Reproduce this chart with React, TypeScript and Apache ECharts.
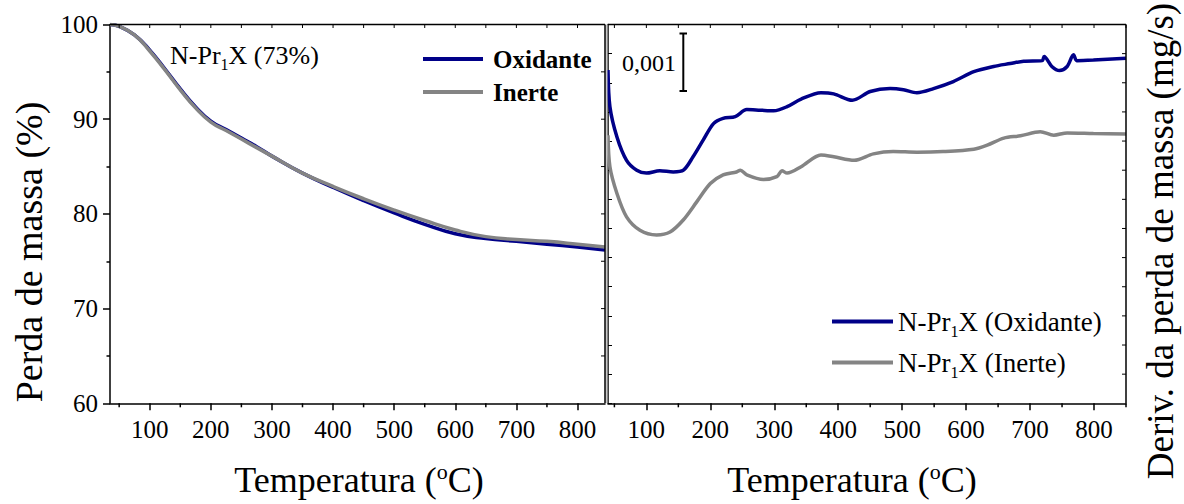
import React, { useEffect, useRef } from 'react';
import * as echarts from 'echarts';

const FONT = 'Liberation Serif, Times New Roman, serif';
const NAVY = '#000088';
const GRAY = '#848484';

// ---- TGA (left panel): temperature (°C) vs mass (%) ----
const tgaTemps = [35, 50, 75, 100, 125, 150, 175, 200, 225, 250, 275, 300, 350, 400, 450, 500, 550, 600, 650, 700, 750, 800, 845];
const tgaOxidante = [100, 99.8, 98.9, 97.3, 95.3, 93.2, 91.3, 89.8, 88.9, 88.0, 87.1, 86.1, 84.3, 82.8, 81.4, 80.1, 78.9, 77.9, 77.4, 77.1, 76.8, 76.5, 76.2];
const tgaInerte = [100, 99.8, 98.9, 97.2, 95.2, 93.1, 91.2, 89.7, 88.8, 87.9, 87.0, 86.1, 84.3, 82.9, 81.6, 80.4, 79.3, 78.3, 77.6, 77.3, 77.1, 76.8, 76.5];

// ---- DTG (right panel): temperature (°C) vs derivative (x10^-3 mg/s, offset curves) ----
const dtgOxTemps = [40, 43, 54, 69, 85, 100, 121, 142, 158, 173, 189, 205, 220, 239, 257, 278, 299, 320, 342, 373, 393, 422, 450, 481, 502, 523, 549, 580, 612, 643, 669, 690, 719, 722, 734, 746, 758, 768, 773, 799, 850];
const dtgOxValues = [-0.28, -0.91, -1.43, -1.83, -2.0, -2.05, -2.01, -2.03, -2.0, -1.77, -1.48, -1.2, -1.11, -1.08, -0.96, -0.97, -0.98, -0.91, -0.78, -0.67, -0.69, -0.8, -0.65, -0.6, -0.62, -0.67, -0.6, -0.48, -0.31, -0.22, -0.17, -0.13, -0.12, -0.05, -0.22, -0.29, -0.22, -0.02, -0.12, -0.11, -0.08];
const dtgInTemps = [40, 43, 54, 69, 90, 116, 137, 158, 179, 200, 220, 241, 247, 257, 283, 304, 312, 320, 342, 373, 393, 425, 455, 486, 523, 564, 612, 633, 659, 685, 716, 737, 758, 799, 850];
const dtgInValues = [-1.4, -1.94, -2.4, -2.8, -3.03, -3.11, -3.06, -2.85, -2.54, -2.23, -2.08, -2.03, -2.0, -2.08, -2.16, -2.11, -2.01, -2.05, -1.94, -1.74, -1.77, -1.83, -1.72, -1.68, -1.69, -1.68, -1.64, -1.57, -1.45, -1.41, -1.34, -1.4, -1.36, -1.37, -1.38];

// ---- Axis ranges and ticks ----
const leftX = [35, 845];
const rightX = [40, 850];
const leftY = [60, 100];
const rightY = [-6, 0.5];
const xMajorTicks = [100, 200, 300, 400, 500, 600, 700, 800];
const xMinorTicksLeft = [50, 150, 250, 350, 450, 550, 650, 750];
const xMinorTicksRight = [50, 150, 250, 350, 450, 550, 650, 750, 850];
const xTopTicksLeft = [50, 100, 150, 200, 250, 300, 350, 400, 450, 500, 550, 600, 650, 700, 750, 800];
const xTopTicksRight = [50, 100, 150, 200, 250, 300, 350, 400, 450, 500, 550, 600, 650, 700, 750, 800, 850];
const yRightTicksLeft = [65, 70, 75, 80, 85, 90, 95];
const yRightTicksRight = [-5.5, -5, -4.5, -4, -3.5, -3, -2.5, -2, -1.5, -1, -0.5, 0];

const GRID_TOP = 24.5;
const GRID_H = 378.8;
const PANELS = [
  { left: 110, width: 495, xr: leftX, yr: leftY, top: xTopTicksLeft, minor: xMinorTicksLeft, right: yRightTicksLeft },
  { left: 608, width: 518, xr: rightX, yr: rightY, top: xTopTicksRight, minor: xMinorTicksRight, right: yRightTicksRight },
];

const zip = (xs: number[], ys: number[]) => xs.map((x, i) => [x, ys[i]]);

const black = { color: '#000', width: 1.5 };
const thin = { color: '#000', width: 1 };

const subRich = (size: number) => ({
  a: { fontSize: size, fontFamily: FONT, color: '#000', lineHeight: size + 8 },
  s: { fontSize: Math.round(size * 0.6), fontFamily: FONT, color: '#000', verticalAlign: 'bottom', lineHeight: Math.round(size * 0.6) },
});

const supRich = (size: number) => ({
  a: { fontSize: size, fontFamily: FONT, color: '#000', lineHeight: size + 4 },
  s: { fontSize: Math.round(size * 0.6), fontFamily: FONT, color: '#000', verticalAlign: 'top', lineHeight: Math.round(size * 0.6) },
});

// frame edges (top / right) and their ticks, following each grid's linear scale
function frameGraphics() {
  const out: any[] = [];
  const seg = (x1: number, y1: number, x2: number, y2: number, w: number) =>
    out.push({ type: 'line', silent: true, z: 100, shape: { x1, y1, x2, y2 }, style: { stroke: '#000', lineWidth: w } });
  const top = GRID_TOP;
  const bottom = GRID_TOP + GRID_H;
  PANELS.forEach((p) => {
    const right = p.left + p.width;
    const sx = (v: number) => p.left + ((v - p.xr[0]) / (p.xr[1] - p.xr[0])) * p.width;
    const sy = (v: number) => bottom - ((v - p.yr[0]) / (p.yr[1] - p.yr[0])) * GRID_H;
    seg(p.left, top, right, top, 1.5);
    seg(right, top, right, bottom, 1.5);
    p.top.forEach((v) => seg(sx(v), top, sx(v), top + 3.5, 1));
    p.minor.forEach((v) => seg(sx(v), bottom, sx(v), bottom + 4, 1.5));
    p.right.forEach((v) => seg(right - 4, sy(v), right, sy(v), 1));
  });
  return out;
}

const graphics: any[] = [
  { type: 'rect', z: 90, shape: { x: 605.5, y: GRID_TOP, width: 2, height: GRID_H }, style: { fill: '#c8c8c8' }, silent: true },
  ...frameGraphics(),
  {
    type: 'text', x: 170, y: 55,
    style: { text: '{a|N-Pr}{s|1}{a|X (73%)}', rich: subRich(26), align: 'left', verticalAlign: 'middle' },
  },
  // scale bar 0,001
  { type: 'line', shape: { x1: 683.3, y1: 33.5, x2: 683.3, y2: 91 }, style: { stroke: '#000', lineWidth: 2 } },
  { type: 'line', shape: { x1: 679.5, y1: 33.5, x2: 687, y2: 33.5 }, style: { stroke: '#000', lineWidth: 2 } },
  { type: 'line', shape: { x1: 679.5, y1: 91, x2: 687, y2: 91 }, style: { stroke: '#000', lineWidth: 2 } },
  {
    type: 'text', x: 676, y: 63,
    style: { text: '0,001', fontSize: 24, fontFamily: FONT, fill: '#000', align: 'right', verticalAlign: 'middle' },
  },
  // axis titles
  {
    type: 'text', x: 359, y: 480,
    style: { text: '{a|Temperatura (}{s|o}{a|C)}', rich: supRich(36), align: 'center', verticalAlign: 'middle' },
  },
  {
    type: 'text', x: 852, y: 480,
    style: { text: '{a|Temperatura (}{s|o}{a|C)}', rich: supRich(36), align: 'center', verticalAlign: 'middle' },
  },
  {
    type: 'text', x: 29, y: 252, rotation: Math.PI / 2,
    style: { text: 'Perda de massa (%)', fontSize: 38, fontFamily: FONT, fill: '#000', align: 'center', verticalAlign: 'middle' },
  },
  {
    type: 'text', x: 1160, y: 241, rotation: Math.PI / 2,
    style: { text: 'Deriv. da perda de massa (mg/s)', fontSize: 37, fontFamily: FONT, fill: '#000', align: 'center', verticalAlign: 'middle' },
  },
];

const bottomAxis = (gridIndex: number, range: number[]) => ({
  type: 'value', gridIndex, min: range[0], max: range[1], position: 'bottom',
  axisLine: { show: true, onZero: false, lineStyle: black },
  axisTick: { show: true, customValues: xMajorTicks, length: 7, lineStyle: black },
  axisLabel: { customValues: xMajorTicks, fontSize: 25, fontFamily: FONT, color: '#000', margin: 14 },
  splitLine: { show: false },
});

const option = {
  animation: false,
  backgroundColor: '#fff',
  textStyle: { fontFamily: FONT },
  grid: PANELS.map((p) => ({ left: p.left, top: GRID_TOP, width: p.width, height: GRID_H })),
  xAxis: [bottomAxis(0, leftX), bottomAxis(1, rightX)],
  yAxis: [
    {
      type: 'value', gridIndex: 0, min: leftY[0], max: leftY[1], interval: 10, position: 'left',
      axisLine: { show: true, onZero: false, lineStyle: black },
      axisTick: { show: true, length: 7, lineStyle: black },
      minorTick: { show: true, splitNumber: 2, length: 3.5, lineStyle: black },
      axisLabel: { fontSize: 25, fontFamily: FONT, color: '#000', margin: 12 },
      splitLine: { show: false },
    },
    {
      type: 'value', gridIndex: 1, min: rightY[0], max: rightY[1], interval: 0.5, position: 'left',
      axisLine: { show: true, onZero: false, lineStyle: black },
      axisTick: { show: true, inside: true, length: 4, lineStyle: thin },
      axisLabel: { show: false },
      splitLine: { show: false },
    },
  ],
  legend: [
    {
      data: ['Oxidante', 'Inerte'],
      orient: 'vertical', left: 423, top: 45, padding: 0, itemGap: 5,
      itemWidth: 60, itemHeight: 4, icon: 'rect',
      textStyle: { fontSize: 25, fontWeight: 'bold', fontFamily: FONT, color: '#000', lineHeight: 28, padding: [0, 0, 0, 5] },
    },
    {
      data: ['N-Pr1X (Oxidante)', 'N-Pr1X (Inerte)'],
      orient: 'vertical', left: 832, top: 308, padding: 0, itemGap: 10,
      itemWidth: 61, itemHeight: 4, icon: 'rect',
      formatter: (name: string) => '{a|N-Pr}{s|1}{a|' + name.replace('N-Pr1X', 'X') + '}',
      textStyle: { fontSize: 27, fontFamily: FONT, color: '#000', rich: subRich(27) },
    },
  ],
  series: [
    {
      name: 'Oxidante', type: 'line', xAxisIndex: 0, yAxisIndex: 0, data: zip(tgaTemps, tgaOxidante),
      showSymbol: false, smooth: 0.5, color: NAVY, lineStyle: { width: 3.5, color: NAVY },
    },
    {
      name: 'Inerte', type: 'line', xAxisIndex: 0, yAxisIndex: 0, data: zip(tgaTemps, tgaInerte),
      showSymbol: false, smooth: 0.5, color: GRAY, lineStyle: { width: 3.5, color: GRAY },
    },
    {
      name: 'N-Pr1X (Oxidante)', type: 'line', xAxisIndex: 1, yAxisIndex: 1, data: zip(dtgOxTemps, dtgOxValues),
      showSymbol: false, smooth: 0.3, color: NAVY, lineStyle: { width: 3.5, color: NAVY },
    },
    {
      name: 'N-Pr1X (Inerte)', type: 'line', xAxisIndex: 1, yAxisIndex: 1, data: zip(dtgInTemps, dtgInValues),
      showSymbol: false, smooth: 0.3, color: GRAY, lineStyle: { width: 3.5, color: GRAY },
    },
  ],
  graphic: { elements: graphics },
};

export default function App() {
  const ref = useRef<HTMLDivElement>(null);
  useEffect(() => {
    const chart = echarts.init(ref.current as HTMLDivElement, null, { renderer: 'svg' });
    chart.setOption(option as any);
    return () => chart.dispose();
  }, []);
  return <div ref={ref} style={{ position: 'fixed', left: 0, top: 0, width: 1184, height: 504 }} />;
}
